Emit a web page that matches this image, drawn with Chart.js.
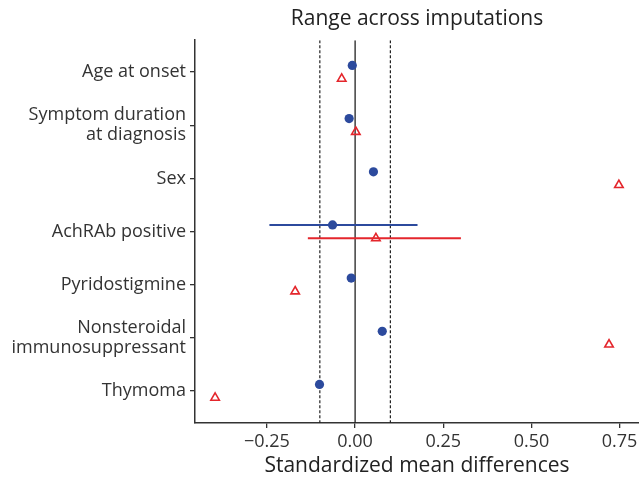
<!DOCTYPE html>
<html>
<head>
<meta charset="utf-8">
<script src="https://cdn.jsdelivr.net/npm/chart.js@4"></script>
<style>
  html, body { margin: 0; padding: 0; background: #fff; }
  #wrap { width: 639px; height: 479px; }
</style>
</head>
<body>
<div id="wrap"><canvas id="lovePlot"></canvas></div>
<script>
// covariates, top to bottom
const categories = ['Age at onset', 'Symptom duration\nat diagnosis', 'Sex', 'AchRAb positive',
  'Pyridostigmine', 'Nonsteroidal\nimmunosuppressant', 'Thymoma'];

// standardized mean differences (blue = dots, red = triangles)
const blueSmd = [-0.008, -0.017, 0.052, -0.064, -0.011, 0.077, -0.101];
const redSmd = [-0.038, 0.002, 0.748, 0.059, -0.170, 0.720, -0.397];

// range across imputations (null = no range shown)
const blueLow = [null, null, null, -0.243, null, null, null];
const blueHigh = [null, null, null, 0.177, null, null, null];
const redLow = [null, null, null, -0.134, null, null, null];
const redHigh = [null, null, null, 0.300, null, null, null];

// reference lines and ticks
const thresholds = [-0.1, 0.1];
const xTicks = [-0.25, 0, 0.25, 0.5, 0.75];

const BLUE = '#2c4a9d';
const RED = '#e4262c';
const AXIS = '#333333';
const yMin = 0.4, yMax = categories.length + 0.6;
const dodge = 0.125;

// points
const datasets = [
  {
    data: blueSmd.map((v, i) => ({ x: v, y: i + 1 - dodge })),
    pointStyle: 'circle', pointRadius: 4.6,
    backgroundColor: BLUE, borderColor: BLUE, borderWidth: 0
  },
  {
    data: redSmd.map((v, i) => ({ x: v, y: i + 1 + dodge })),
    pointStyle: 'triangle', pointRadius: 4.9,
    backgroundColor: 'rgba(255,255,255,0)', borderColor: RED, borderWidth: 1.6
  }
];

// horizontal range segments
function addRanges(low, high, off, color) {
  low.forEach((lo, i) => {
    if (lo === null) return;
    datasets.push({
      data: [{ x: lo, y: i + 1 + off }, { x: high[i], y: i + 1 + off }],
      showLine: true, pointRadius: 0, borderColor: color, borderWidth: 2
    });
  });
}
addRanges(blueLow, blueHigh, -dodge, BLUE);
addRanges(redLow, redHigh, dodge, RED);

// zero line and thresholds
datasets.push({
  data: [{ x: 0, y: yMin }, { x: 0, y: yMax }],
  showLine: true, pointRadius: 0, borderColor: '#222', borderWidth: 1.3
});
thresholds.forEach(t => {
  datasets.push({
    data: [{ x: t, y: yMin }, { x: t, y: yMax }],
    showLine: true, pointRadius: 0, borderColor: '#222', borderWidth: 1.2, borderDash: [3, 2]
  });
});

const ctx = document.getElementById('lovePlot').getContext('2d');
new Chart(ctx, {
  type: 'scatter',
  data: { datasets: datasets },
  options: {
    responsive: true,
    maintainAspectRatio: false,
    animation: false,
    // no auto padding, so the plot runs to the right edge like the original
    layout: { padding: 0, autoPadding: false },
    plugins: {
      legend: { display: false },
      tooltip: { enabled: false },
      title: {
        display: true,
        text: 'Range across imputations',
        fullSize: false,
        color: '#222',
        font: { family: 'Open Sans', size: 21, weight: 'normal', lineHeight: 1.2 },
        padding: { top: 6, bottom: 9 }
      }
    },
    scales: {
      x: {
        type: 'linear',
        min: -0.454,
        max: 0.805,
        afterBuildTicks: s => { s.ticks = xTicks.map(v => ({ value: v })); },
        afterFit: s => { s.height = 56; s.paddingLeft = 0; s.paddingRight = 0; },
        ticks: {
          color: '#333',
          font: { family: 'Open Sans', size: 18 },
          padding: 3,
          maxRotation: 0,
          callback: v => (v < 0 ? '\u2212' : '') + Math.abs(v).toFixed(2)
        },
        grid: { drawOnChartArea: false, drawTicks: true, tickLength: 5, color: AXIS, lineWidth: 1.3 },
        border: { color: AXIS, width: 1.5 },
        title: {
          display: true,
          text: 'Standardized mean differences',
          color: '#222',
          font: { family: 'Open Sans', size: 21, lineHeight: 1.2 },
          padding: { top: 0, bottom: 0 }
        }
      },
      y: {
        type: 'linear',
        reverse: true,
        min: yMin,
        max: yMax,
        afterBuildTicks: s => { s.ticks = categories.map((c, i) => ({ value: i + 1 })); },
        afterFit: s => { s.width = 195; s.paddingTop = 0; s.paddingBottom = 0; },
        ticks: {
          color: '#333',
          font: { family: 'Open Sans', size: 18, lineHeight: 1.12 },
          padding: 4,
          callback: v => categories[v - 1].split('\n')
        },
        grid: { drawOnChartArea: false, drawTicks: true, tickLength: 5, color: AXIS, lineWidth: 1.3 },
        border: { color: AXIS, width: 1.5 }
      }
    }
  }
});
</script>
</body>
</html>
